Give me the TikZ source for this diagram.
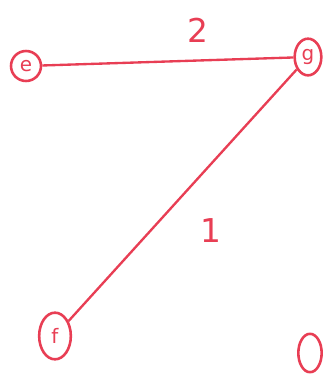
\documentclass[tikz,border=0pt]{standalone}
\usepackage{fontspec}
\setsansfont{DejaVu Sans}
\usetikzlibrary{shapes.geometric}
\definecolor{inkred}{RGB}{232,62,84}

\begin{document}
\begin{tikzpicture}[
    x=0.03cm, y=-0.03cm,
    base/.style={draw=inkred, line width=2.2pt, text=inkred, inner sep=0pt, font=\sffamily\fontsize{17}{18}\selectfont},
    vertex/.style={base, ellipse},
    edgelabel/.style={text=inkred, font=\sffamily\fontsize{28}{30}\selectfont},
    edge/.style={draw=inkred, line width=2pt}
]
    \useasboundingbox (0,0) rectangle (333,383);

    % --- VERTICES ---
    \node (e) [vertex, minimum width=0.9cm, minimum height=0.9cm] at (26,66) {e};
    \node (g) [vertex, minimum width=0.8cm, minimum height=1.1cm] at (308,57) {g};
    \node (f) [vertex, minimum width=0.95cm, minimum height=1.4cm] at (55,336) {f};
    \node (o) [vertex, minimum width=0.7cm, minimum height=1.15cm] at (310,353) {};

    % --- EDGES ---
    \draw [edge] (e) -- (g) node[edgelabel, pos=0.62, above=11pt] {2};
    \draw [edge] (g) -- (f) node[edgelabel, pos=0.64, right=38pt] {1};

\end{tikzpicture}
\end{document}
